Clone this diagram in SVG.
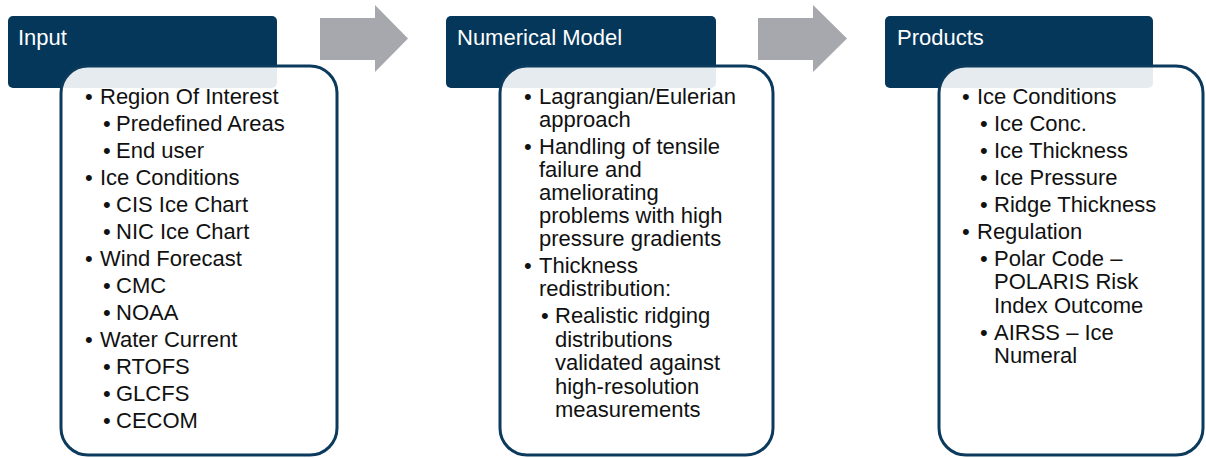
<svg xmlns="http://www.w3.org/2000/svg" width="1206" height="458" viewBox="0 0 1206 458">
<style>
.hdr{fill:#04375a}
.body{fill:#ffffff;fill-opacity:0.9;stroke:#0b3a5c;stroke-width:3}
.ht{font-family:"Liberation Sans",Arial,sans-serif;font-size:22px;fill:#ffffff}
.bt{font-family:"Liberation Sans",Arial,sans-serif;font-size:22px;fill:#111111}
.arr{fill:#a6a8ad}
</style>
<rect width="1206" height="458" fill="#ffffff"/>
<g id="connectors">
<polygon class="arr" points="320,18 375,18 375,5 408,38.5 375,72 375,60 320,60"/>
<polygon class="arr" points="758,18 813,18 813,5 847,38.5 813,72 813,60 758,60"/>
</g>
<g id="input">
<rect class="hdr" x="8" y="16" width="269" height="72" rx="5"/>
<text class="ht" x="18" y="45">Input</text>
<rect class="body" x="61" y="66" width="276" height="389" rx="27"/>
<g class="bt">
<text x="85" y="104">•</text><text x="100" y="104">Region Of Interest</text>
<text x="103" y="131">•</text><text x="116" y="131">Predefined Areas</text>
<text x="103" y="158">•</text><text x="116" y="158">End user</text>
<text x="85" y="185">•</text><text x="100" y="185">Ice Conditions</text>
<text x="103" y="212">•</text><text x="116" y="212">CIS Ice Chart</text>
<text x="103" y="239">•</text><text x="116" y="239">NIC Ice Chart</text>
<text x="85" y="266">•</text><text x="100" y="266">Wind Forecast</text>
<text x="103" y="293">•</text><text x="116" y="293">CMC</text>
<text x="103" y="320">•</text><text x="116" y="320">NOAA</text>
<text x="85" y="347">•</text><text x="100" y="347">Water Current</text>
<text x="103" y="374">•</text><text x="116" y="374">RTOFS</text>
<text x="103" y="401">•</text><text x="116" y="401">GLCFS</text>
<text x="103" y="428">•</text><text x="116" y="428">CECOM</text>
</g>
</g>
<g id="numerical-model">
<rect class="hdr" x="446" y="16" width="270" height="72" rx="5"/>
<text class="ht" x="457" y="45">Numerical Model</text>
<rect class="body" x="500" y="66" width="273" height="389" rx="27"/>
<g class="bt">
<text x="524" y="104">•</text><text x="539" y="104">Lagrangian/Eulerian</text>
<text x="539" y="127">approach</text>
<text x="524" y="154">•</text><text x="539" y="154">Handling of tensile</text>
<text x="539" y="177">failure and</text>
<text x="539" y="200">ameliorating</text>
<text x="539" y="223">problems with high</text>
<text x="539" y="246">pressure gradients</text>
<text x="524" y="273">•</text><text x="539" y="273">Thickness</text>
<text x="539" y="296">redistribution:</text>
<text x="541" y="323">•</text><text x="555" y="323">Realistic ridging</text>
<text x="555" y="347">distributions</text>
<text x="555" y="370">validated against</text>
<text x="555" y="394">high-resolution</text>
<text x="555" y="417">measurements</text>
</g>
</g>
<g id="products">
<rect class="hdr" x="885" y="16" width="268" height="72" rx="5"/>
<text class="ht" x="897" y="45">Products</text>
<rect class="body" x="939" y="66" width="264" height="389" rx="27"/>
<g class="bt">
<text x="962" y="104">•</text><text x="977" y="104">Ice Conditions</text>
<text x="980" y="131">•</text><text x="994" y="131">Ice Conc.</text>
<text x="980" y="158">•</text><text x="994" y="158">Ice Thickness</text>
<text x="980" y="185">•</text><text x="994" y="185">Ice Pressure</text>
<text x="980" y="212">•</text><text x="994" y="212">Ridge Thickness</text>
<text x="962" y="239">•</text><text x="977" y="239">Regulation</text>
<text x="980" y="266">•</text><text x="994" y="266">Polar Code –</text>
<text x="994" y="289">POLARIS Risk</text>
<text x="994" y="313">Index Outcome</text>
<text x="980" y="340">•</text><text x="994" y="340">AIRSS – Ice</text>
<text x="994" y="363">Numeral</text>
</g>
</g>
</svg>
